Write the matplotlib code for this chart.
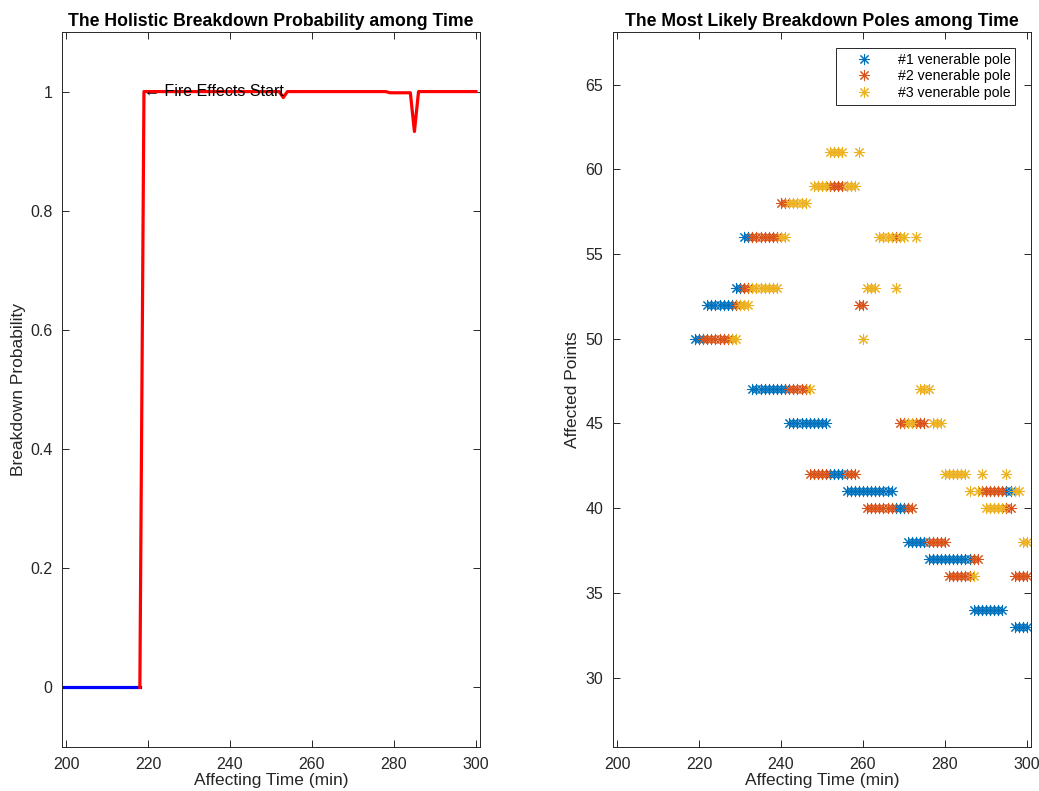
import numpy as np
import matplotlib.pyplot as plt

plt.rcParams['font.family'] = ['Liberation Sans', 'DejaVu Sans']

# left panel: holistic breakdown probability
pre_time = [199, 218]
pre_prob = [0, 0]
fire_time = [218, 219, 252, 253, 254, 278, 279, 284, 285, 286, 300]
fire_prob = [0, 1, 1, 0.99, 1, 1, 0.998, 0.998, 0.933, 1, 1]

# right panel: three most likely breakdown poles, one value per minute
nan = np.nan
pole_time = np.arange(219, 301)
pole1 = [50, 50, 50, 52, 52, 52, 52, 52, 52, 52,
         53, 53, 56, 56, 47, 47, 47, 47, 47, 47,
         47, 47, 47, 45, 45, 45, 45, 45, 45, 45,
         45, 45, 45, 42, 42, 42, 42, 41, 41, 41,
         41, 41, 41, 41, 41, 41, 41, 41, 41, 40,
         40, 40, 38, 38, 38, 38, 38, 37, 37, 37,
         37, 37, 37, 37, 37, 37, 37, 37, 34, 34,
         34, 34, 34, 34, 34, 34, 41, 41, 33, 33,
         33, 33]
pole2 = [nan, nan, 50, 50, 50, 50, 50, 50, 50, 50,
         52, 52, 53, 53, 56, 56, 56, 56, 56, 56,
         56, 58, 58, 47, 47, 47, 47, 47, 42, 42,
         42, 42, 42, 59, 59, 59, 59, 42, 42, 42,
         52, 52, 40, 40, 40, 40, 40, 40, 40, 56,
         45, 45, 40, 40, 45, 45, 45, 38, 38, 38,
         38, 38, 36, 36, 36, 36, 36, 36, 37, 37,
         41, 41, 41, 41, 41, 41, 40, 40, 36, 36,
         36, 36]
pole3 = [nan, nan, nan, nan, nan, nan, nan, nan, nan, 50,
         50, 52, 52, 52, 53, 53, 53, 53, 53, 53,
         53, 56, 56, 58, 58, 58, 58, 58, 47, 59,
         59, 59, 59, 61, 61, 61, 61, 59, 59, 59,
         61, 50, 53, 53, 53, 56, 56, 56, 56, 53,
         56, 56, 45, 45, 56, 47, 47, 47, 45, 45,
         45, 42, 42, 42, 42, 42, 42, 41, 36, 41,
         42, 40, 40, 40, 40, 40, 42, nan, 41, 41,
         38, 38]
pole_labels = ['#1 venerable pole', '#2 venerable pole', '#3 venerable pole']
pole_colors = ['#0072BD', '#D95319', '#EDB120']

axis_gray = '#262626'
W, H = 1039, 791
fig = plt.figure(figsize=(W / 100, H / 100), dpi=100)
ax1 = fig.add_axes([62 / W, 44 / H, 418 / W, 715 / H])
ax2 = fig.add_axes([613 / W, 44 / H, 418 / W, 715 / H])

for ax in (ax1, ax2):
    ax.tick_params(direction='in', top=True, right=True, length=5, width=0.7,
                   labelsize=11.5, colors=axis_gray, pad=7)
    for sp in ax.spines.values():
        sp.set_color(axis_gray)
        sp.set_linewidth(0.7)
    ax.set_xlim(199, 301)
    ax.set_xticks(range(200, 301, 20))
    ax.set_xlabel('Affecting Time (min)', fontsize=12.5, color=axis_gray, labelpad=1)

# left
ax1.plot(pre_time, pre_prob, color='blue', lw=2.3)
ax1.plot(fire_time, fire_prob, color='red', lw=2.3)
ax1.text(219, 1, '\u2190 Fire Effects Start', fontsize=11.5, va='center', ha='left')
ax1.set_ylim(-0.1, 1.1)
ax1.set_yticks([0, 0.2, 0.4, 0.6, 0.8, 1])
ax1.set_yticklabels(['0', '0.2', '0.4', '0.6', '0.8', '1'])
ax1.set_ylabel('Breakdown Probability', fontsize=12.5, color=axis_gray, labelpad=3)
ax1.set_title('The Holistic Breakdown Probability among Time', fontsize=12.7,
              fontweight='bold', pad=4)

# right
for vals, lab, col in zip([pole1, pole2, pole3], pole_labels, pole_colors):
    ax2.plot(pole_time, vals, linestyle='none', marker=(8, 2, 0), ms=8,
             mew=0.75, color=col, label=lab)
ax2.set_ylim(25.9, 68.1)
ax2.set_yticks(range(30, 66, 5))
ax2.set_ylabel('Affected Points', fontsize=12.5, color=axis_gray, labelpad=4)
ax2.set_title('The Most Likely Breakdown Poles among Time', fontsize=12.7,
              fontweight='bold', pad=4)
leg = ax2.legend(loc='upper right', fontsize=10.2, fancybox=False, framealpha=1,
                 edgecolor=axis_gray, handlelength=3.3, handletextpad=0.7,
                 labelspacing=0.2, borderpad=0.35, borderaxespad=1.1)
leg.get_frame().set_linewidth(0.7)

fig.savefig('out.png', dpi=100)
